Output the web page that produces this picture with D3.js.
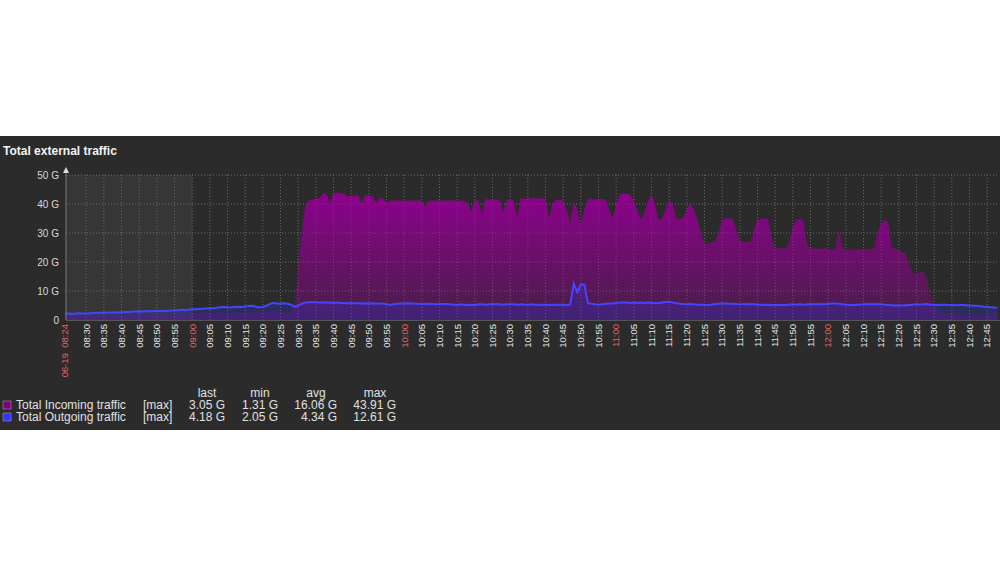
<!DOCTYPE html>
<html>
<head>
<meta charset="utf-8">
<script src="https://d3js.org/d3.v7.min.js"></script>
<style>
  body { margin: 0; background: #fff; }
  svg text { font-family: "Liberation Sans", Arial, sans-serif; }
</style>
</head>
<body>
<svg id="chart" width="1000" height="572"></svg>
<script>
// one value per minute, starting 06-19 08:24 (G)
var startTime = new Date(2019, 5, 19, 8, 24);
var workStart = new Date(2019, 5, 19, 9, 0);

var incoming = [
  1.5, 1.5, 1.4, 1.4, 1.5, 1.6, 1.5, 1.5, 1.6, 1.6,      // 08:24
  1.7, 1.6, 1.6, 1.7, 1.7, 1.6, 1.7, 1.8, 1.7, 1.8,      // 08:34
  1.8, 1.9, 1.8, 1.9, 1.9, 1.8, 1.9, 2.0, 1.9, 2.0,      // 08:44
  2.0, 2.1, 2.0, 2.1, 2.1, 2.2, 2.1, 2.2, 2.2, 2.3,      // 08:54
  2.2, 2.3, 2.3, 2.4, 2.3, 2.4, 2.5, 2.4, 2.5, 2.5,      // 09:04
  2.6, 2.5, 2.6, 2.6, 2.7, 2.6, 2.7, 2.8, 2.8, 2.9,      // 09:14
  2.9, 2.8, 2.6, 2.4, 2.5, 6, 18, 30, 39, 41,            // 09:24
  41.5, 42, 42, 43.5, 43.7, 40.2, 43.6, 43.9, 43.7, 43.5, // 09:34
  42.5, 43, 42.8, 43, 40.2, 43, 43, 42.8, 40.5, 42,      // 09:44
  42, 40.2, 41.2, 41, 41.3, 41.1, 41.2, 41, 41.3, 41.1,  // 09:54
  41.2, 41, 39, 41, 41.2, 41.1, 41.3, 41, 41.2, 41.1,    // 10:04
  41.3, 41, 41.2, 41, 40.2, 37.4, 41.4, 41, 36.8, 41.6,  // 10:14
  41.6, 41.5, 41.6, 41.4, 37, 41.5, 41.4, 41.2, 35.6, 41.9, // 10:24
  41.9, 42, 41.9, 42.1, 41.9, 41.8, 41.9, 35, 40, 41.4,  // 10:34
  41.4, 41.3, 38, 33.3, 40.8, 38, 32.8, 38, 41.6, 41.6,  // 10:44
  41.5, 41.6, 41.7, 41.6, 38, 35, 40, 43.2, 43.5, 43.5,  // 10:54
  43.2, 41, 38, 34.5, 37, 41, 43, 40, 34.5, 35,          // 11:04
  38, 41.4, 40, 35, 34.5, 35.5, 38, 40.2, 38, 34.5,      // 11:14
  30, 26.4, 26.5, 26.8, 27, 30, 34.5, 35, 35, 35,        // 11:24
  31, 26.9, 26.9, 27, 26.8, 31, 34.5, 34.8, 35, 35,      // 11:34
  28, 24.7, 24.7, 24.9, 24.6, 27, 32, 34.5, 34.8, 34.3,  // 11:44
  26, 24.7, 24.7, 24.4, 24.6, 24.8, 24.5, 24.3, 24.1, 31, // 11:54
  25, 24.1, 24.3, 24.4, 24.2, 24.5, 24.4, 24.6, 24.3, 24.7, // 12:04
  30, 33.3, 34.5, 33.5, 25, 24.5, 24, 23.5, 22.4, 19,    // 12:14
  16, 16.2, 16.5, 16.8, 14, 9, 5, 3.4, 2.5, 2.3,         // 12:24
  2.2, 2.1, 2.0, 1.9, 1.8, 1.7, 1.6, 1.5, 1.4, 1.31,     // 12:34
  1.5, 1.9, 2.4, 2.8, 3.05                               // 12:44
];

var outgoing = [
  2.2, 2.2, 2.1, 2.2, 2.3, 2.2, 2.2, 2.3, 2.4, 2.5,
  2.5, 2.6, 2.5, 2.6, 2.7, 2.6, 2.7, 2.8, 2.8, 2.9,
  2.9, 3.0, 2.9, 3.0, 3.1, 3.0, 3.1, 3.2, 3.1, 3.2,
  3.3, 3.3, 3.4, 3.5, 3.4, 3.6, 3.7, 3.7, 3.8, 3.9,
  4.0, 4.1, 4.0, 4.2, 4.4, 4.5, 4.4, 4.3, 4.5, 4.6,
  4.5, 4.7, 4.8, 4.9, 4.6, 4.4, 4.5, 4.9, 5.5, 5.9,
  5.6, 5.7, 5.8, 5.6, 5.3, 4.5, 5.0, 5.6, 6.0, 6.1,
  6.1, 6.1, 6.0, 6.1, 6.0, 6.0, 5.9, 6.0, 5.9, 5.9,
  5.8, 5.9, 5.8, 5.8, 5.7, 5.8, 5.7, 5.8, 5.7, 5.7,
  5.6, 5.4, 5.2, 5.4, 5.6, 5.7, 5.7, 5.8, 5.7, 5.6,
  5.6, 5.5, 5.6, 5.5, 5.5, 5.4, 5.5, 5.5, 5.5, 5.4,
  5.3, 5.2, 5.4, 5.3, 5.2, 5.3, 5.2, 5.4, 5.4, 5.3,
  5.4, 5.5, 5.4, 5.4, 5.3, 5.4, 5.4, 5.4, 5.3, 5.4,
  5.3, 5.3, 5.4, 5.3, 5.2, 5.3, 5.3, 5.2, 5.3, 5.3,
  5.2, 5.3, 5.1, 5.4, 12.6, 9.6, 12.3, 12.2, 5.8, 5.6,
  5.4, 5.3, 5.4, 5.6, 5.7, 5.7, 5.9, 6.0, 6.0, 6.0,
  5.9, 6.0, 5.9, 6.0, 5.9, 6.0, 5.9, 5.9, 5.8, 6.0,
  6.2, 6.3, 6.0, 5.8, 5.6, 5.5, 5.4, 5.5, 5.4, 5.3,
  5.3, 5.2, 5.2, 5.3, 5.5, 5.6, 5.7, 5.7, 5.6, 5.5,
  5.5, 5.4, 5.4, 5.5, 5.4, 5.4, 5.3, 5.3, 5.2, 5.3,
  5.2, 5.2, 5.3, 5.2, 5.2, 5.3, 5.4, 5.3, 5.4, 5.3,
  5.4, 5.5, 5.4, 5.4, 5.5, 5.4, 5.6, 5.7, 5.7, 5.6,
  5.4, 5.3, 5.2, 5.2, 5.3, 5.3, 5.4, 5.5, 5.4, 5.4,
  5.5, 5.4, 5.3, 5.2, 5.1, 5.0, 5.0, 5.0, 5.1, 5.2,
  5.3, 5.4, 5.3, 5.4, 5.5, 5.3, 5.3, 5.2, 5.3, 5.3,
  5.2, 5.2, 5.1, 5.2, 5.2, 5.1, 5.0, 4.9, 4.9, 4.8,
  4.6, 4.5, 4.4, 4.3, 4.18
];

var yTicks = [0, 10, 20, 30, 40, 50];
var seriesNames = ["Total Incoming traffic", "Total Outgoing traffic"];
var seriesColors = ["#800080", "#3333ff"];
var statHeaders = ["last", "min", "avg", "max"];
var incomingStats = ["3.05 G", "1.31 G", "16.06 G", "43.91 G"];
var outgoingStats = ["4.18 G", "2.05 G", "4.34 G", "12.61 G"];

var svg = d3.select("#chart");
var times = incoming.map(function(d, i) { return d3.timeMinute.offset(startTime, i); });
var endTime = new Date(+startTime + 264.5 * 60000);

var x = d3.scaleTime().domain([startTime, endTime]).range([65, 999.5]);
var y = d3.scaleLinear().domain([0, 50]).range([320, 175]);

// panel
svg.append("rect").attr("x", 0).attr("y", 136).attr("width", 1000).attr("height", 294)
  .attr("fill", "#2b2b2b");
svg.append("text").attr("x", 3).attr("y", 155).text("Total external traffic")
  .attr("fill", "#f2f2f2").style("font-size", "12px").style("font-weight", "bold");

// off-hours shading
svg.append("rect").attr("x", x(startTime)).attr("y", y(50))
  .attr("width", x(workStart) - x(startTime)).attr("height", y(0) - y(50))
  .attr("fill", "#363636");

var ticks = x.ticks(d3.timeMinute.every(5)).filter(function(t) { return t - startTime >= 3 * 60000; });

function drawGrid(color) {
  var g = svg.append("g");
  g.selectAll(".hg").data(yTicks.slice(1)).enter().append("line")
    .attr("x1", 66).attr("x2", 999).attr("y1", function(d) { return y(d); }).attr("y2", function(d) { return y(d); })
    .attr("stroke", color).attr("stroke-dasharray", "1,2");
  g.selectAll(".vg").data(ticks).enter().append("line")
    .attr("x1", function(d) { return x(d); }).attr("x2", function(d) { return x(d); })
    .attr("y1", y(50)).attr("y2", y(0))
    .attr("stroke", color).attr("stroke-dasharray", "1,2");
}
drawGrid("#5c5c5c");

var defs = svg.append("defs");
var grad = defs.append("linearGradient").attr("id", "inGrad").attr("x1", 0).attr("y1", 0).attr("x2", 0).attr("y2", 1);
grad.append("stop").attr("offset", "0%").attr("stop-color", "#8e008e").attr("stop-opacity", 1);
grad.append("stop").attr("offset", "100%").attr("stop-color", "#8e008e").attr("stop-opacity", 0.28);

var areaIn = d3.area().x(function(d, i) { return x(times[i]); }).y0(y(0)).y1(function(d) { return y(d); });
svg.append("path").datum(incoming).attr("d", areaIn).attr("fill", "url(#inGrad)");

svg.append("path").datum(outgoing).attr("d", areaIn).attr("fill", "#3333ff").attr("fill-opacity", 0.24);
var lineOut = d3.line().x(function(d, i) { return x(times[i]); }).y(function(d) { return y(d); });
svg.append("path").datum(outgoing).attr("d", lineOut).attr("fill", "none")
  .attr("stroke", "#4444ff").attr("stroke-width", 2);

drawGrid("rgba(160,160,160,0.18)");

// axes
svg.append("line").attr("x1", 66).attr("x2", 1000).attr("y1", 320.5).attr("y2", 320.5).attr("stroke", "#555");
svg.append("line").attr("x1", 66).attr("x2", 66).attr("y1", 320).attr("y2", 171).attr("stroke", "#777");
svg.append("path").attr("d", "M63,173L66,167L69,173Z").attr("fill", "#ddd");

svg.selectAll(".ylab").data(yTicks).enter().append("text")
  .attr("x", 59).attr("y", function(d) { return y(d); }).attr("dy", "0.35em")
  .attr("text-anchor", "end").attr("fill", "#d8d8d8").style("font-size", "10px")
  .text(function(d) { return d === 0 ? "0" : d + " G"; });

var fmt = d3.timeFormat("%H:%M");
var xLabels = [startTime].concat(ticks);
svg.selectAll(".xlab").data(xLabels).enter().append("text")
  .attr("transform", function(d) { return "translate(" + x(d) + ",324) rotate(-90)"; })
  .attr("dy", "0.35em").attr("text-anchor", "end")
  .style("font-size", "9.5px").style("white-space", "pre")
  .attr("fill", function(d, i) { return (i === 0 || d.getMinutes() === 0) ? "#e46464" : "#e6e6e6"; })
  .text(function(d, i) { return i === 0 ? d3.timeFormat("%m-%d")(d) + "  " + fmt(d) : fmt(d); });

// legend
var statRight = [225, 278, 337, 396];
var statCenter = [207, 260, 316, 375];
svg.selectAll(".hdr").data(statHeaders).enter().append("text")
  .attr("x", function(d, i) { return statCenter[i]; }).attr("y", 397)
  .attr("text-anchor", "middle").attr("fill", "#e0e0e0").style("font-size", "12px")
  .text(function(d) { return d; });

var rows = [incomingStats, outgoingStats];
seriesNames.forEach(function(name, r) {
  var yy = 409 + r * 12;
  svg.append("rect").attr("x", 3).attr("y", yy - 8).attr("width", 8).attr("height", 8)
    .attr("fill", seriesColors[r]).attr("stroke", "#aaa").attr("stroke-width", 0.5);
  svg.append("text").attr("x", 16).attr("y", yy).text(name)
    .attr("fill", "#e0e0e0").style("font-size", "12px");
  svg.append("text").attr("x", 143).attr("y", yy).text("[max]")
    .attr("fill", "#e0e0e0").style("font-size", "12px");
  svg.selectAll(".st" + r).data(rows[r]).enter().append("text")
    .attr("x", function(d, i) { return statRight[i]; }).attr("y", yy)
    .attr("text-anchor", "end").attr("fill", "#e0e0e0").style("font-size", "12px")
    .text(function(d) { return d; });
});
</script>
</body>
</html>
